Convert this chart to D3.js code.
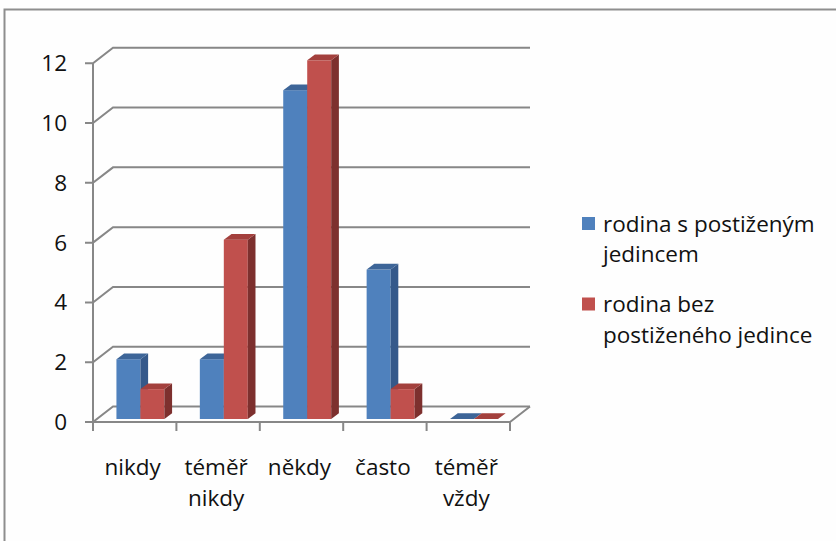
<!DOCTYPE html>
<html>
<head>
<meta charset="utf-8">
<script src="https://cdn.jsdelivr.net/npm/d3@7"></script>
<style>
  html, body { margin: 0; padding: 0; background: #fefefe; }
  svg { display: block; }
  text { font-family: "Open Sans", "DejaVu Sans", sans-serif; fill: #111; }
</style>
</head>
<body>
<svg id="chart" width="836" height="541"></svg>
<script>
// Answers per frequency category, for two groups of families
const categories = [["nikdy"], ["téměř", "nikdy"], ["někdy"], ["často"], ["téměř", "vždy"]];
const seriesNames = [["rodina s postiženým", "jedincem"], ["rodina bez", "postiženého jedince"]];
const withDisabled = [2, 2, 11, 5, 0];
const withoutDisabled = [1, 6, 12, 1, 0];
const yTicks = [0, 2, 4, 6, 8, 10, 12];

const series = [withDisabled, withoutDisabled];
const faces = [
  { front: "#4f81bd", side: "#35598a", top: "#3d6598" },
  { front: "#c0504d", side: "#7d302e", top: "#a3403d" }
];

const svg = d3.select("#chart");

// outer frame
svg.append("rect")
  .attr("x", 4.5).attr("y", 9.5)
  .attr("width", 900).attr("height", 600)
  .attr("fill", "#fefefe").attr("stroke", "#8e8e8e").attr("stroke-width", 2);

// plot geometry: front plane and the wall depth offset
const x0 = 93, x1 = 510;
const depth = { dx: 20, dy: -15.5 };
const y = d3.scaleLinear().domain([0, 12]).range([422, 63.3]);
const x = d3.scaleBand().domain(d3.range(categories.length)).range([x0, x1]).paddingInner(0).paddingOuter(0);
const inner = d3.scaleBand().domain([0, 1]).range([0.245 * x.bandwidth(), 0.82 * x.bandwidth()]);

const grid = svg.append("g").attr("fill", "none").attr("stroke", "#878787").attr("stroke-width", 2);

// gridlines: front tick, diagonal along the side wall, then across the back wall
yTicks.forEach(v => {
  const yy = y(v);
  grid.append("path")
    .attr("d", `M${x0 - 8},${yy}L${x0},${yy}L${x0 + depth.dx},${yy + depth.dy}L${x1 + depth.dx},${yy + depth.dy}`);
});

// vertical axis line
grid.append("line")
  .attr("x1", x0).attr("x2", x0)
  .attr("y1", y(12)).attr("y2", y(0));

// floor front edge and right edge
grid.append("path")
  .attr("d", `M${x0},${y(0)}L${x1},${y(0)}L${x1 + depth.dx},${y(0) + depth.dy}`);

// category ticks below the floor
d3.range(categories.length + 1).forEach(i => {
  const xx = x0 + i * x.bandwidth();
  grid.append("line")
    .attr("x1", xx).attr("x2", xx)
    .attr("y1", y(0)).attr("y2", y(0) + 9);
});

// y tick labels
svg.append("g").selectAll("text")
  .data(yTicks)
  .join("text")
  .attr("x", 67)
  .attr("y", d => y(d) + 8)
  .attr("text-anchor", "end")
  .attr("font-size", 22.5)
  .text(d => d);

// 3D columns: front face set slightly into the depth, with a side and a top
const barOff = { dx: 3, dy: -3 };
const barDepth = { dx: 7.7, dy: -5.7 };
const bars = svg.append("g");
categories.forEach((c, i) => {
  series.forEach((vals, s) => {
    const v = vals[i];
    const left = x(i) + inner(s) + barOff.dx;
    const w = inner.bandwidth();
    const base = y(0) + barOff.dy;
    const top = y(v) + barOff.dy;
    const col = faces[s];
    if (v > 0) {
      bars.append("rect")
        .attr("x", left).attr("y", top)
        .attr("width", w).attr("height", base - top)
        .attr("fill", col.front);
      bars.append("path")
        .attr("d", `M${left + w},${top}L${left + w + barDepth.dx},${top + barDepth.dy}L${left + w + barDepth.dx},${base + barDepth.dy}L${left + w},${base}Z`)
        .attr("fill", col.side);
    }
    bars.append("path")
      .attr("d", `M${left},${top}L${left + barDepth.dx},${top + barDepth.dy}L${left + w + barDepth.dx},${top + barDepth.dy}L${left + w},${top}Z`)
      .attr("fill", col.top);
  });
});

// category labels
const catG = svg.append("g");
categories.forEach((lines, i) => {
  const cx = x(i) + x.bandwidth() / 2 - 2;
  const t = catG.append("text")
    .attr("x", cx)
    .attr("y", 475)
    .attr("text-anchor", "middle")
    .attr("font-size", 22.5);
  lines.forEach((ln, k) => {
    t.append("tspan").attr("x", cx).attr("dy", k === 0 ? 0 : 31).text(ln);
  });
});

// legend
const legend = svg.append("g");
const legendTop = [231.5, 312];
seriesNames.forEach((lines, s) => {
  legend.append("rect")
    .attr("x", 582).attr("y", legendTop[s] - 14.5)
    .attr("width", 13).attr("height", 13)
    .attr("fill", faces[s].front);
  const t = legend.append("text")
    .attr("x", 603).attr("y", legendTop[s])
    .attr("font-size", 22.5);
  lines.forEach((ln, k) => {
    t.append("tspan").attr("x", 603).attr("dy", k === 0 ? 0 : 30.5).text(ln);
  });
});
</script>
</body>
</html>
